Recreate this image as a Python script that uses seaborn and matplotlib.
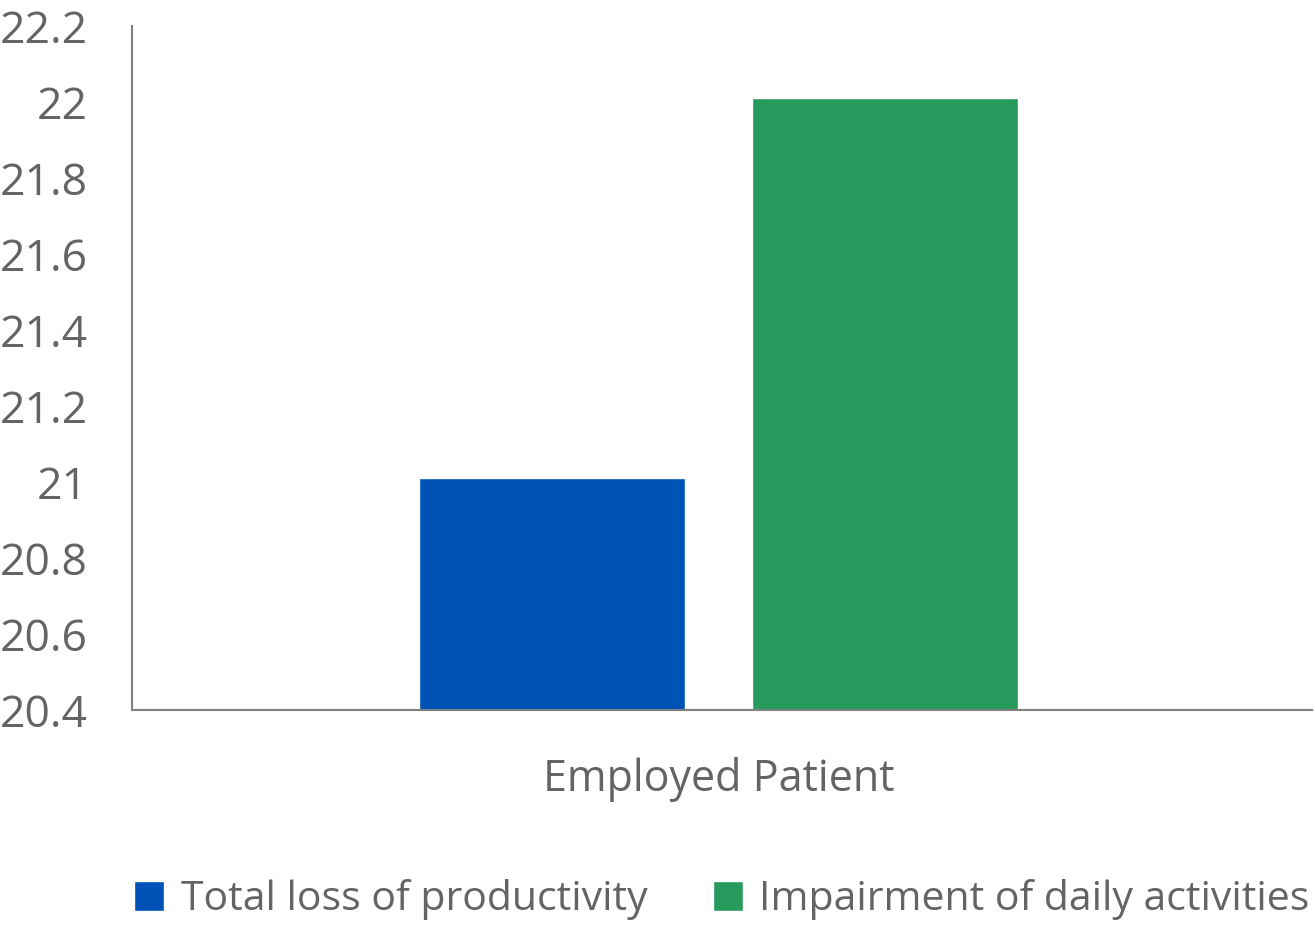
import pandas as pd
import matplotlib.pyplot as plt
import seaborn as sns

# Data
groups = ['Employed Patient', 'Employed Patient']
measures = ['Total loss of productivity', 'Impairment of daily activities']
scores = [21.01, 22.01]
colors = ['#0053B6', '#279B5D']
yticks = [20.4, 20.6, 20.8, 21, 21.2, 21.4, 21.6, 21.8, 22, 22.2]

df = pd.DataFrame({'Group': groups, 'Measure': measures, 'Score': scores})

sns.set_style('white')
plt.rcParams['font.family'] = ['Open Sans', 'DejaVu Sans']
text_color = '#646464'

fig = plt.figure(figsize=(13.15, 9.31), dpi=100)
ax = fig.add_axes([132 / 1315, 221 / 931, 1180 / 1315, 684 / 931])

sns.barplot(data=df, x='Group', y='Score', hue='Measure', palette=colors,
            saturation=1, width=0.565, gap=0.2025, ax=ax, legend=True)

ax.set_ylim(20.4, 22.2)
ax.set_xlim(-0.497, 0.503)
ax.set_yticks(yticks)
ax.set_yticklabels([f'{t:g}' for t in yticks])
ax.tick_params(axis='y', labelsize=32, colors=text_color, length=0, pad=32)
ax.tick_params(axis='x', labelsize=31, colors=text_color, length=0, pad=34)
ax.set_xlabel('')
ax.set_ylabel('')

for side in ['top', 'right']:
    ax.spines[side].set_visible(False)
for side in ['left', 'bottom']:
    ax.spines[side].set_color('#808080')
    ax.spines[side].set_linewidth(1.5)

# Legend at the bottom of the figure
handles, labels = ax.get_legend_handles_labels()
ax.get_legend().remove()
fig.legend(handles, labels, loc='lower center', bbox_to_anchor=(722 / 1315, -0.028),
           ncol=2, frameon=False, fontsize=29.5, labelcolor=text_color,
           handlelength=0.73, handleheight=0.73, handletextpad=0.4, columnspacing=1.6)

fig.savefig('out.png', dpi=100)
